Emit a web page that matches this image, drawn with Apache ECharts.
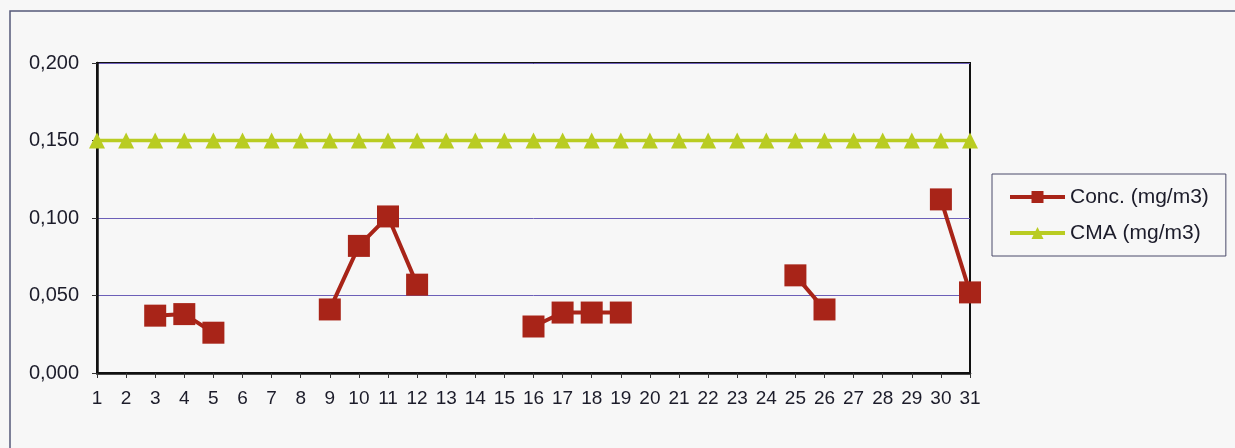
<!DOCTYPE html>
<html>
<head>
<meta charset="utf-8">
<script src="https://cdn.jsdelivr.net/npm/echarts@6/dist/echarts.min.js"></script>
<style>
  html, body { margin: 0; padding: 0; background: #f7f7f7; }
  #chart { width: 1235px; height: 448px; }
</style>
</head>
<body>
<div id="chart"></div>
<script>
// days of the month
var days = ['1','2','3','4','5','6','7','8','9','10','11','12','13','14','15','16',
  '17','18','19','20','21','22','23','24','25','26','27','28','29','30','31']

// measured concentration, gaps where no sample
var conc = [null, null, 0.037, 0.038, 0.026, null, null, null, 0.041, 0.082, 0.101, 0.057,
  null, null, null, 0.030, 0.039, 0.039, 0.039, null, null, null, null, null,
  0.063, 0.041, null, null, null, 0.112, 0.052]

// limit value (CMA)
var cma = [0.150, 0.150, 0.150, 0.150, 0.150, 0.150, 0.150, 0.150, 0.150, 0.150, 0.150,
  0.150, 0.150, 0.150, 0.150, 0.150, 0.150, 0.150, 0.150, 0.150, 0.150, 0.150,
  0.150, 0.150, 0.150, 0.150, 0.150, 0.150, 0.150, 0.150, 0.150]

var seriesNames = ['Conc. (mg/m3)', 'CMA (mg/m3)']

var chart = echarts.init(document.getElementById('chart'))

var option = {
  backgroundColor: '#f7f7f7',
  animation: false,
  textStyle: { fontFamily: 'Liberation Sans, Arial, sans-serif' },
  graphic: [
    {
      type: 'rect',
      shape: { x: 10, y: 11, width: 1240, height: 460 },
      style: { fill: 'none', stroke: '#555a7a', lineWidth: 1.5 },
      silent: true
    }
  ],
  grid: {
    left: 97,
    right: 265,
    top: 63,
    bottom: 75,
    show: true,
    borderColor: '#111',
    borderWidth: 2,
    backgroundColor: 'transparent'
  },
  legend: {
    orient: 'vertical',
    left: 992,
    top: 174,
    padding: [11, 17, 11, 16],
    itemGap: 12,
    itemWidth: 55,
    itemHeight: 15,
    borderColor: '#4a4a6a',
    borderWidth: 1,
    lineStyle: { width: 4 },
    textStyle: { fontSize: 21, color: '#1c1c2a', lineHeight: 24 },
    data: seriesNames
  },
  xAxis: {
    type: 'category',
    data: days,
    boundaryGap: false,
    axisLine: { lineStyle: { color: '#111', width: 2.5 } },
    axisTick: { show: true, length: 5, lineStyle: { color: '#333', width: 1 } },
    axisLabel: { fontSize: 19, color: '#1c1c2a', margin: 16, interval: 0 }
  },
  yAxis: {
    type: 'value',
    min: 0,
    max: 0.2,
    interval: 0.05,
    axisLine: { show: true, lineStyle: { color: '#111', width: 2.5 } },
    axisTick: { show: true, length: 5, lineStyle: { color: '#333', width: 1 } },
    axisLabel: {
      fontSize: 20,
      color: '#1c1c2a',
      margin: 18,
      formatter: function (v) { return v.toFixed(3).replace('.', ',') }
    },
    splitLine: { show: true, lineStyle: { color: '#6c5fb8', width: 1 } }
  },
  series: [
    {
      name: seriesNames[0],
      type: 'line',
      data: conc,
      connectNulls: false,
      symbol: 'rect',
      symbolSize: 22,
      color: '#a82418',
      lineStyle: { color: '#a82418', width: 4 },
      itemStyle: { color: '#a82418' },
      z: 4
    },
    {
      name: seriesNames[1],
      type: 'line',
      data: cma,
      symbol: 'triangle',
      symbolSize: 16,
      color: '#b9cc22',
      lineStyle: { color: '#b9cc22', width: 3.5 },
      itemStyle: { color: '#b9cc22' },
      z: 3
    }
  ]
}

chart.setOption(option)
window.addEventListener('resize', function () {
  chart.resize()
})
</script>
</body>
</html>
